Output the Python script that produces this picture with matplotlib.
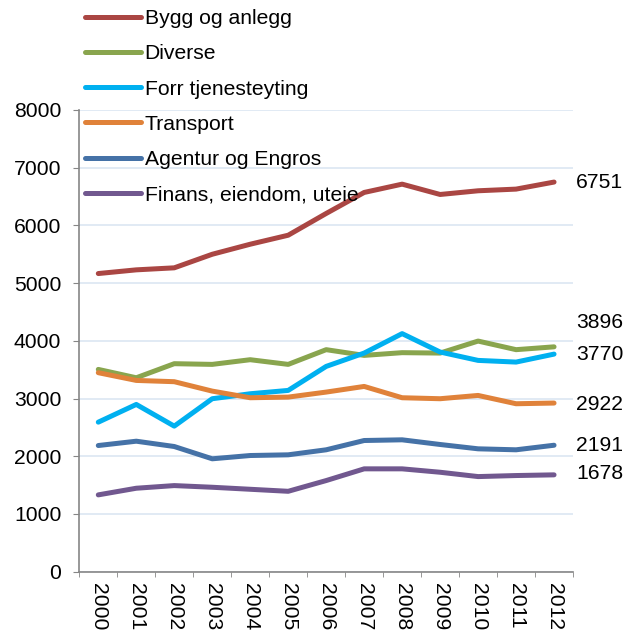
import matplotlib.pyplot as plt
import numpy as np

plt.rcParams['font.family'] = ['Liberation Sans', 'DejaVu Sans']

# data
years = ['2000', '2001', '2002', '2003', '2004', '2005', '2006',
         '2007', '2008', '2009', '2010', '2011', '2012']
bygg = [5166, 5230, 5265, 5500, 5674, 5830, 6207, 6571, 6715, 6536, 6600, 6629, 6751]
diverse = [3505, 3360, 3604, 3592, 3673, 3592, 3847, 3748, 3795, 3788, 3996, 3847, 3896]
forr = [2591, 2898, 2522, 2997, 3083, 3141, 3557, 3788, 4125, 3806, 3661, 3632, 3770]
transport = [3448, 3314, 3292, 3129, 3014, 3025, 3112, 3210, 3014, 2997, 3054, 2910, 2922]
agentur = [2186, 2261, 2169, 1956, 2013, 2025, 2112, 2273, 2285, 2204, 2129, 2112, 2191]
finans = [1331, 1446, 1492, 1463, 1428, 1393, 1579, 1782, 1782, 1723, 1648, 1666, 1678]

names = ['Bygg og anlegg', 'Diverse', 'Forr tjenesteyting', 'Transport',
         'Agentur og Engros', 'Finans, eiendom, uteie']
series = [bygg, diverse, forr, transport, agentur, finans]
colors = ['#AA4643', '#89A54E', '#00B0F0', '#E0823A', '#4572A7', '#71588F']
# nudge for end labels so they don't overlap
label_shift = [0, 420, 0, -30, 0, 30]

fs = 15.2

fig = plt.figure(figsize=(6.36, 6.35), dpi=100)
ax = fig.add_axes([0.1247, 0.0997, 0.7763, 0.7271])

x = np.arange(len(years))
for vals, name, c in zip(series, names, colors):
    ax.plot(x, vals, color=c, lw=3.6, label=name,
            solid_capstyle='round', solid_joinstyle='round')

for vals, c, dy in zip(series, colors, label_shift):
    ax.text(x[-1] + 0.58, vals[-1] + dy, str(vals[-1]), fontsize=fs,
            va='center', ha='left', color='black')

ax.set_xlim(-0.5, len(years) - 0.5)
ax.set_ylim(0, 8000)
ax.set_yticks(np.arange(0, 8001, 1000))
ax.set_xticks(x)
ax.set_xticklabels(years, rotation=-90, fontsize=fs)
ax.set_xticks(np.arange(-0.5, len(years)), minor=True)
ax.tick_params(axis='x', which='major', length=0, pad=8)
ax.tick_params(axis='x', which='minor', length=3.6, color='#868686', direction='out')
ax.tick_params(axis='y', length=4.3, color='#868686', labelsize=fs, pad=8.7)

ax.grid(axis='y', color='#DCE6F2', lw=1.2)
ax.set_axisbelow(True)
for s in ['top', 'right']:
    ax.spines[s].set_visible(False)
for s in ['left', 'bottom']:
    ax.spines[s].set_color('#868686')
    ax.spines[s].set_linewidth(1.2)

ax.legend(loc='upper left', bbox_to_anchor=(0.121, 0.999), bbox_transform=fig.transFigure,
          frameon=False, fontsize=fs, handlelength=2.65, handletextpad=0.15,
          labelspacing=0.77, borderaxespad=0)

fig.savefig('out.png', dpi=100)
